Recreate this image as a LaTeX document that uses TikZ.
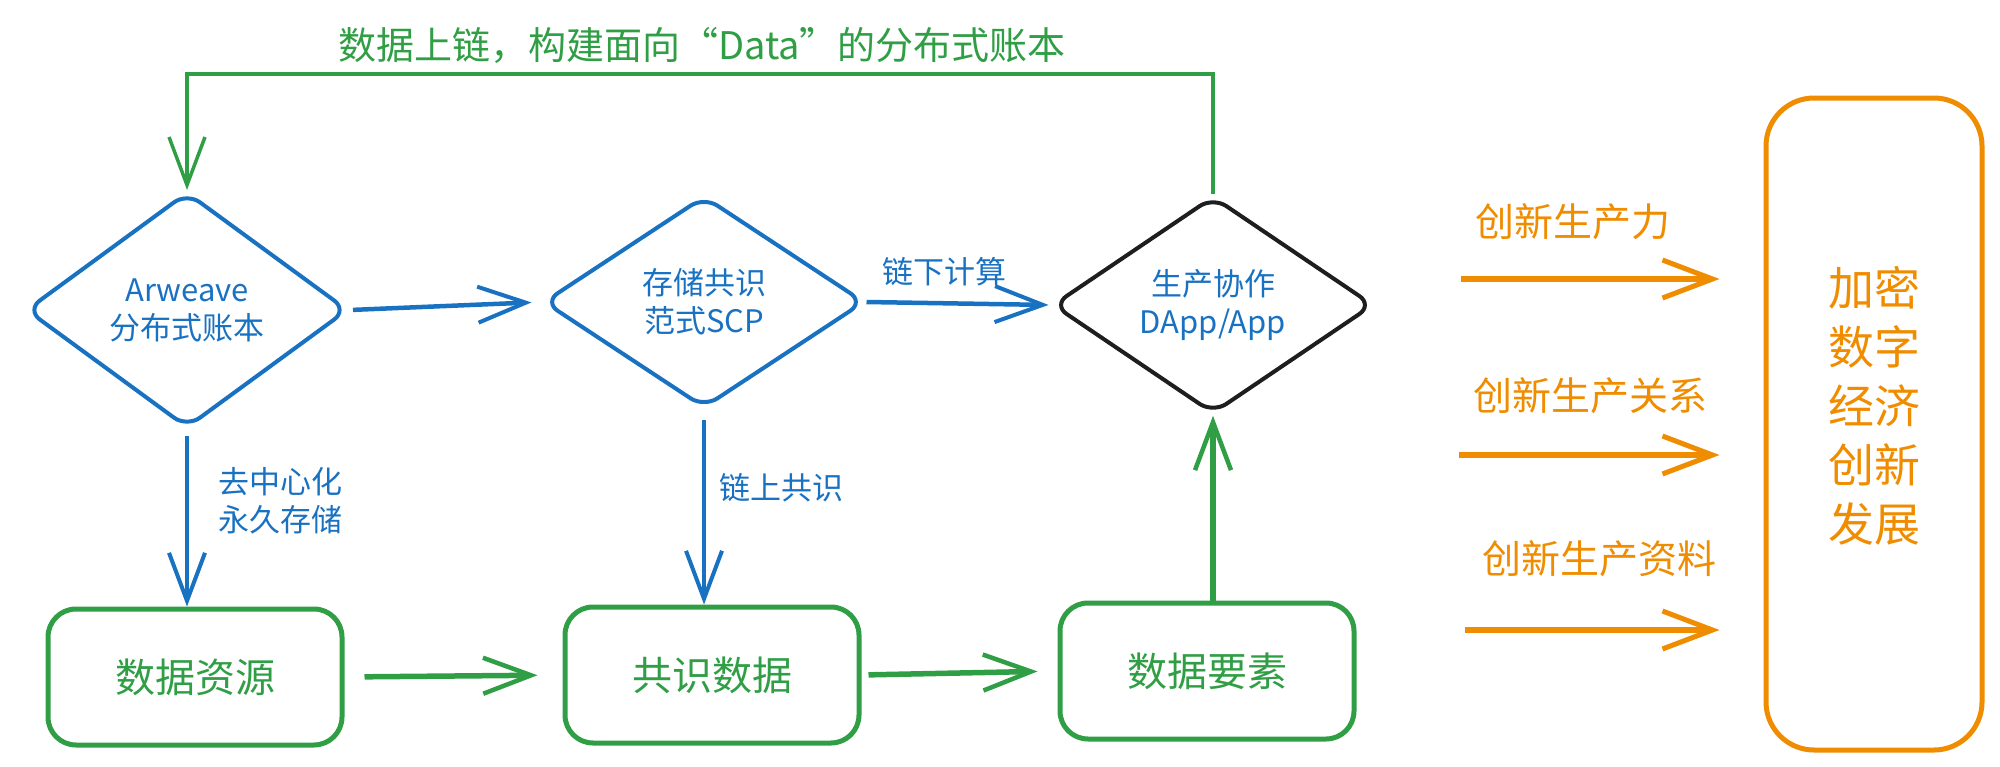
\documentclass[tikz,border=0pt]{standalone}
\usepackage{fontspec}
\setmainfont{Noto Sans CJK SC}
\usepackage{tikz}
\usetikzlibrary{positioning,arrows.meta,calc,shapes.geometric}

\definecolor{inkblue}{HTML}{1971C2}
\definecolor{inkgreen}{HTML}{2F9E44}
\definecolor{inkorange}{HTML}{F08C00}
\definecolor{inkblack}{HTML}{1E1E1E}

\begin{document}
\begin{tikzpicture}[
    x=1pt, y=-1pt,
    every node/.style={align=center, inner sep=2pt},
    ledger/.style={diamond, draw=inkblue, line width=4pt, rounded corners=16pt, inner sep=0pt, text=inkblue, font=\fontsize{31pt}{38pt}\selectfont},
    databox/.style={draw=inkgreen, line width=5pt, rounded corners=28pt, minimum width=294pt, minimum height=136pt, text=inkgreen, font=\fontsize{40pt}{48pt}\selectfont},
    note/.style={text=inkblue, font=\fontsize{31pt}{38pt}\selectfont},
    gain/.style={text=inkorange, font=\fontsize{39pt}{46pt}\selectfont},
    goalbox/.style={draw=inkorange, line width=5pt, rounded corners=48pt, minimum width=216pt, minimum height=652pt, text=inkorange, text depth=40pt, font=\fontsize{46pt}{59pt}\selectfont},
    bluearrow/.style={draw=inkblue, line width=4.5pt, -{Straight Barb[length=48pt,width=36pt,line width=4pt]}},
    greenarrow/.style={draw=inkgreen, line width=5.5pt, -{Straight Barb[length=48pt,width=36pt,line width=4.5pt]}},
    orangearrow/.style={draw=inkorange, line width=6pt, -{Straight Barb[length=50pt,width=38pt,line width=5pt]}}
  ]
    \useasboundingbox (0,0) rectangle (2000,766);

    % the three diamonds
    \node[ledger, minimum width=322pt, minimum height=236pt] (arw) at (187,310) {Arweave\\分布式账本};
    \node[ledger, minimum width=321pt, minimum height=212pt] (scp) at (704,302) {存储共识\\范式SCP};
    \node[ledger, draw=inkblack, minimum width=321pt, minimum height=210pt] (dapp) at (1213,305) {生产协作\\DApp/App};

    % data boxes
    \node[databox] (src) at (195,677) {数据资源};
    \node[databox] (cons) at (712,675) {共识数据};
    \node[databox] (elem) at (1207,671) {数据要素};

    \draw[bluearrow, shorten <=3pt, shorten >=10pt] (arw.east) -- (scp.west);
    \draw[bluearrow, shorten >=2pt] (scp.east) -- (dapp.west);
    \node[note] (offc) at (944,272) {链下计算};

    \draw[bluearrow, line width=3.5pt, shorten <=6pt] (arw.south) -- (arw.south |- src.north);
    \node[note] (perm) at (280,501) {去中心化\\永久存储};
    \draw[bluearrow, line width=3.5pt, shorten <=10pt] (scp.south) -- (scp.south |- cons.north);
    \node[note] (onc) at (781,488) {链上共识};

    \draw[greenarrow, shorten <=20pt, shorten >=25pt] (src.east) -- (cons.west);
    \draw[greenarrow, shorten <=7pt, shorten >=20pt] (cons.east) -- (elem.west);
    \draw[greenarrow] (dapp.south |- elem.north) -- (dapp.south);

    % loop back to the ledger
    \draw[draw=inkgreen, line width=4pt, -{Straight Barb[length=48pt,width=36pt,line width=3.5pt]}]
      (dapp.north) -- ++(0,-120) -| (arw.north);
    \node[text=inkgreen, font=\fontsize{38pt}{46pt}\selectfont] (ttl) at (702,45) {数据上链，构建面向“Data”的分布式账本};

    % outcome
    \node[goalbox] (goal) at (1874,424) {加密\\数字\\经济\\创新\\发展};
    \coordinate (in1) at (1461,279);
    \coordinate (in2) at (1459,455);
    \coordinate (in3) at (1465,630);
    \foreach \c in {in1,in2,in3}
      \draw[orangearrow, shorten >=44pt] (\c) -- (\c -| goal.west);
    \node[gain] (g1) at (1573,222) {创新生产力};
    \node[gain] (g2) at (1590,396) {创新生产关系};
    \node[gain] (g3) at (1599,559) {创新生产资料};
  \end{tikzpicture}
\end{document}
